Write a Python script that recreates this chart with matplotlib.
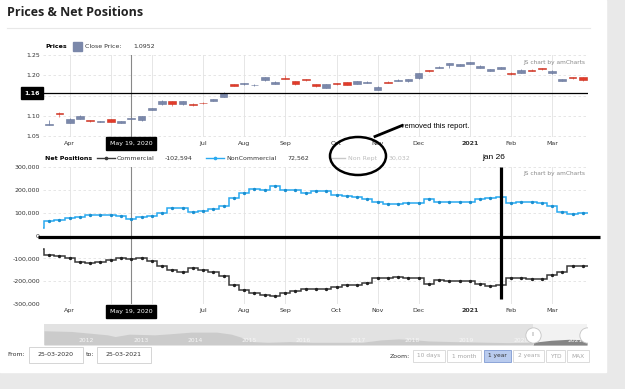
import matplotlib.pyplot as plt
import matplotlib.patches as mpatches
import numpy as np
import pandas as pd

W, H = 625, 389
nan = np.nan

# weekly COT report dates (first one only shows as the step coming in from the left edge)
weeks = pd.date_range('2020-03-17', periods=54, freq='7D')

# EUR/USD weekly candles
price_open = [nan, 1.078, 1.108, 1.083, 1.093, 1.090, 1.086, 1.092, 1.083, 1.094, 1.091,
              1.115, 1.130, 1.137, 1.130, 1.129, 1.133, 1.137, 1.147, 1.178, 1.178,
              1.176, 1.188, 1.179, 1.194, 1.185, 1.190, 1.179, 1.170, 1.181, 1.183,
              1.179, 1.182, 1.165, 1.184, 1.187, 1.185, 1.193, 1.212, 1.219, 1.226,
              1.224, 1.228, 1.218, 1.211, 1.216, 1.207, 1.207, 1.213, 1.217, 1.205,
              1.186, 1.195, 1.196]
price_close = [nan, 1.080, 1.105, 1.094, 1.101, 1.088, 1.087, 1.086, 1.088, 1.0952, 1.100,
               1.119, 1.137, 1.130, 1.136, 1.127, 1.131, 1.142, 1.156, 1.174, 1.181,
               1.177, 1.195, 1.184, 1.192, 1.179, 1.188, 1.173, 1.178, 1.179, 1.177,
               1.185, 1.183, 1.172, 1.182, 1.189, 1.190, 1.206, 1.210, 1.221, 1.230,
               1.228, 1.233, 1.223, 1.215, 1.220, 1.203, 1.214, 1.211, 1.215, 1.210,
               1.191, 1.193, 1.188]
price_high = [nan, 1.090, 1.109, 1.095, 1.103, 1.091, 1.089, 1.093, 1.089, 1.096, 1.101,
              1.121, 1.139, 1.138, 1.137, 1.131, 1.134, 1.143, 1.158, 1.179, 1.182,
              1.179, 1.196, 1.185, 1.200, 1.186, 1.191, 1.180, 1.179, 1.182, 1.184,
              1.186, 1.185, 1.174, 1.185, 1.190, 1.191, 1.207, 1.213, 1.222, 1.231,
              1.229, 1.234, 1.225, 1.216, 1.221, 1.208, 1.215, 1.216, 1.218, 1.213,
              1.192, 1.196, 1.197]
price_low = [nan, 1.077, 1.098, 1.082, 1.092, 1.085, 1.085, 1.085, 1.082, 1.093, 1.089,
             1.114, 1.127, 1.126, 1.128, 1.124, 1.130, 1.136, 1.146, 1.173, 1.177,
             1.175, 1.187, 1.178, 1.190, 1.177, 1.187, 1.172, 1.169, 1.176, 1.176,
             1.178, 1.181, 1.164, 1.181, 1.186, 1.184, 1.192, 1.209, 1.218, 1.217,
             1.223, 1.227, 1.217, 1.210, 1.215, 1.201, 1.206, 1.210, 1.214, 1.204,
             1.185, 1.192, 1.187]
price_line = 1.157   # horizontal marker line, label "1.16"

# net positions (contracts)
commercial = [-60000, -87000, -88000, -97000, -115000, -119000, -115000, -106000, -98000,
              -102594, -100000, -110000, -132000, -153000, -161000, -144000, -151000,
              -159000, -177000, -216000, -238000, -254000, -259000, -266000, -251000,
              -245000, -233000, -235000, -235000, -226000, -217000, -218000, -206000,
              -185000, -184000, -182000, -186000, -188000, -211000, -195000, -198000,
              -200000, -200000, -213000, -220000, -218000, -185000, -188000, -191000,
              -191000, -173000, -159000, -132000, -135000]
noncommercial = [35000, 63000, 67000, 76000, 82000, 88000, 91000, 91000, 84000, 72562,
                 81000, 84000, 98000, 120000, 120000, 103000, 107000, 115000, 129000,
                 163000, 185000, 204000, 200000, 217000, 200000, 200000, 185000, 195000,
                 194000, 179000, 172000, 169000, 159000, 145000, 140000, 140000, 144000,
                 144000, 159000, 147000, 148000, 148000, 148000, 160000, 166000, 170000,
                 144000, 145000, 145000, 144000, 128000, 104000, 94000, 98000]
nonrept_value = 30032
cursor_idx = 9          # May 19, 2020
marked_idx = 45         # Jan 26, 2021

# navigator (scrollbar) history, relative height
nav_years = [2011.22, 2011.72, 2012.06, 2012.39, 2012.53, 2012.79, 2013.26, 2013.53,
             2013.93, 2014.40, 2014.67, 2014.87, 2015.07, 2015.34, 2015.74, 2016.14,
             2016.41, 2016.75, 2017.08, 2017.42, 2017.75, 2018.02, 2018.29, 2018.76,
             2019.42, 2019.76, 2020.23, 2020.56, 2020.90, 2021.22]
nav_vals = [42, 40, 35, 30, 25, 32, 30, 33, 38, 38, 32, 22, 10, 8, 10, 8, 8, 8, 8, 15,
            18, 16, 12, 10, 8, 7, 8, 14, 17, 15]
nav_sel_start = 2020.23

zoom_buttons = ['10 days', '1 month', '1 year', '2 years', 'YTD', 'MAX']
zoom_selected = '1 year'

BLUE, BLUE_EDGE = '#7b88aa', '#66749a'
RED, RED_EDGE = '#e23b2a', '#c7301f'
CYAN = '#2aaaf0'
DARK = '#3a3a3a'
SMALL = 4.5


def rect(x0, y0, x1, y1):
    # pixel box (from top-left) -> figure fraction
    return [x0 / W, 1 - y1 / H, (x1 - x0) / W, (y1 - y0) / H]


fig = plt.figure(figsize=(W / 100, H / 100), dpi=100, facecolor='#e9e9e9')

bg = fig.add_axes([0, 0, 1, 1], zorder=0)
bg.set_xlim(0, W)
bg.set_ylim(H, 0)
bg.axis('off')
bg.add_patch(mpatches.Rectangle((0, 0), 606, 372, color='white'))
bg.text(7, 12.5, 'Prices & Net Positions', fontsize=9, fontweight='bold',
        family='Open Sans', va='center', color='#222')
bg.plot([7, 590], [28, 28], color='#e8e8e8', lw=0.8)

x = np.arange(len(weeks))
month_idx = [i for i in range(1, len(weeks)) if weeks[i].month != weeks[i - 1].month]
month_lbl = ['2021' if weeks[i].month == 1 else weeks[i].strftime('%b') for i in month_idx]
# May and Jun sit under the cursor tooltip, so they stay blank
month_lbl = ['' if m in ('May', 'Jun') else m for m in month_lbl]


def style_axes(ax, pad):
    ax.set_facecolor('none')
    for s in ax.spines.values():
        s.set_visible(False)
    ax.set_xlim(0.4, 53.5)
    ax.set_xticks(month_idx, month_lbl)
    ax.tick_params(length=0, labelsize=SMALL, colors='#333', pad=pad)
    ax.tick_params(axis='y', pad=2.2)
    for lbl in ax.get_xticklabels():
        if lbl.get_text() == '2021':
            lbl.set_fontweight('bold')
    ax.grid(axis='x', color='#e6e6e6', lw=0.7)
    ax.grid(axis='y', color='#e2e2e2', lw=0.6, ls=(0, (3, 3)))
    ax.set_axisbelow(True)
    ax.axvline(cursor_idx, color='#888', lw=0.8, zorder=1)


# ---- price candles
ax1 = fig.add_axes(rect(43, 55, 588, 136.5), zorder=2)
style_axes(ax1, 3.2)
o = np.array(price_open)
c = np.array(price_close)
hi = np.array(price_high)
lo = np.array(price_low)
ok = ~np.isnan(o)
up = c >= o
fill = np.where(up, BLUE, RED)[ok]
edge = np.where(up, BLUE_EDGE, RED_EDGE)[ok]
wick = np.where(up, BLUE, '#ee7a6c')[ok]
ax1.vlines(x[ok], lo[ok], hi[ok], colors=wick, lw=0.6, zorder=2)
ax1.bar(x[ok], np.maximum(np.abs(c - o)[ok], 0.0007), bottom=np.minimum(o, c)[ok],
        width=0.75, color=fill, edgecolor=edge, lw=0.4, zorder=3)
ax1.axhline(price_line, color='black', lw=0.9, zorder=4)
ax1.set_ylim(1.05, 1.25)
ax1.set_yticks([1.05, 1.10, 1.15, 1.20, 1.25])
# 1.15 is covered by the 1.16 value box
ax1.yaxis.set_major_formatter(lambda v, p: '' if abs(v - 1.15) < 1e-6 else f'{v:.2f}')

# ---- net positions
ax2 = fig.add_axes(rect(43, 167, 588, 304), zorder=2)
style_axes(ax2, 2.6)
edges = np.append(x - 0.5, x[-1] + 0.5)
ax2.stairs(commercial, edges, baseline=None, color=DARK, lw=1.1, zorder=3)
ax2.plot(x, commercial, 'o', ms=1.4, color='#222', zorder=4)
ax2.stairs(noncommercial, edges, baseline=None, color=CYAN, lw=1.1, zorder=3)
ax2.plot(x, noncommercial, 'o', ms=1.4, color='#1a8fd0', zorder=4)
ax2.set_ylim(-300000, 300000)
ax2.set_yticks(np.arange(-300000, 300001, 100000))
ax2.yaxis.set_major_formatter(lambda v, p: f'{v:,.0f}')

# ---- legends
bg.text(45, 46, 'Prices', fontsize=SMALL, fontweight='bold', va='center')
bg.add_patch(mpatches.Rectangle((73, 41.5), 9, 9, color=BLUE))
bg.text(85, 46, 'Close Price:', fontsize=SMALL, va='center', color='#333')
bg.text(133, 46, f'{price_close[cursor_idx]:.4f}', fontsize=SMALL, va='center', color='#333')

ly = 158
bg.text(45, ly, 'Net Positions', fontsize=SMALL, fontweight='bold', va='center')
bg.plot([97, 115], [ly, ly], color=DARK, lw=1)
bg.plot([106], [ly], 'o', ms=1.6, color=DARK)
bg.text(117, ly, 'Commercial', fontsize=SMALL, va='center', color='#333')
bg.text(165, ly, f'{commercial[cursor_idx]:,.0f}', fontsize=SMALL, va='center', color='#333')
bg.plot([206, 224], [ly, ly], color=CYAN, lw=1)
bg.plot([215], [ly], 'o', ms=1.6, color=CYAN)
bg.text(226, ly, 'NonCommercial', fontsize=SMALL, va='center', color='#333')
bg.text(287, ly, f'{noncommercial[cursor_idx]:,.0f}', fontsize=SMALL, va='center', color='#333')
bg.plot([332, 345], [ly, ly], color='#c8c8c8', lw=1)
bg.text(348, ly, 'Non Rept', fontsize=SMALL, va='center', color='#bdbdbd')
bg.text(389, ly, f'{nonrept_value:,}', fontsize=SMALL, va='center', color='#bdbdbd')

# ---- navigator
nav = fig.add_axes(rect(44, 324, 587, 345), zorder=2)
nav.set_facecolor('#e2e2e2')
nav.set_xlim(nav_years[0], nav_years[-1])
nav.set_ylim(0, 62)
nav.set_xticks([])
nav.set_yticks([])
for s in nav.spines.values():
    s.set_visible(False)
ny = np.array(nav_years)
nav.fill_between(ny, nav_vals, color='#cbcbcb', lw=0)
nav.axvspan(nav_sel_start, nav_years[-1], color='#f2f2f2', lw=0)
nav.fill_between(ny, nav_vals, where=ny >= nav_sel_start, color='#858585', lw=0)
for yr in range(2012, 2022):
    nav.text(yr, 12, str(yr), ha='center', va='center', fontsize=4.3, color='#f7f7f7')
for hx in [nav_sel_start, nav_years[-1]]:
    nav.plot([hx], [31], 'o', ms=11, mfc='white', mec='#c4c4c4', mew=0.6,
             clip_on=(hx == nav_years[-1]), zorder=5)
nav.text(nav_sel_start, 31, 'II', ha='center', va='center', fontsize=3.5,
         color='#aaa', zorder=6, clip_on=False)

# ---- bottom controls
bg.text(7, 355, 'From:', fontsize=SMALL, va='center', color='#333')
for bx, txt in [(29, weeks[1] + pd.Timedelta(days=1)), (97, weeks[-1] + pd.Timedelta(days=2))]:
    bg.add_patch(mpatches.Rectangle((bx, 347), 54, 16, fc='white', ec='#cfcfcf', lw=0.6))
    bg.text(bx + 27, 355, txt.strftime('%d-%m-%Y'), fontsize=SMALL, ha='center',
            va='center', color='#333')
bg.text(85.5, 355, 'to:', fontsize=SMALL, va='center', color='#333')
bg.text(410, 356, 'Zoom:', fontsize=SMALL, ha='right', va='center', color='#333')
btn_x = [(413, 445), (447, 481), (484, 511), (513, 544), (546, 565), (567, 589)]
for (b0, b1), name in zip(btn_x, zoom_buttons):
    sel = name == zoom_selected
    bg.add_patch(mpatches.Rectangle((b0, 350), b1 - b0, 12,
                                    fc='#b9cbee' if sel else 'white',
                                    ec='#7f9bd3' if sel else '#d6d6d6', lw=0.6))
    bg.text((b0 + b1) / 2, 356, name, fontsize=4.2, ha='center', va='center',
            color='#333' if sel else '#a8a8a8')

# ---- overlay: tooltips, watermark, hand drawn marks
ov = fig.add_axes([0, 0, 1, 1], zorder=10)
ov.set_xlim(0, W)
ov.set_ylim(H, 0)
ov.axis('off')

tip = weeks[cursor_idx].strftime('%b %d, %Y').replace(' 0', ' ')
for ty in [137, 305]:
    ov.add_patch(mpatches.Rectangle((106, ty), 50, 13, color='black'))
    ov.text(131, ty + 6.5, tip, fontsize=SMALL, ha='center', va='center', color='white')
ov.add_patch(mpatches.Rectangle((21, 87), 22, 12, color='black'))
ov.text(32, 93, f'{price_line:.2f}', fontsize=SMALL, ha='center', va='center',
        color='white', fontweight='bold')
for wy in [62, 173]:
    ov.text(585, wy, 'JS chart by amCharts', fontsize=4.2, ha='right', va='center',
            color='#8a8a8a')

ov.plot([38, 600], [236.5, 236.5], color='black', lw=2.3, solid_capstyle='butt')
jan_x = 43 + (marked_idx - 0.4) * 545 / 53.1
ov.plot([jan_x, jan_x], [167, 299], color='black', lw=2.3, solid_capstyle='butt')
ov.text(jan_x - 18, 157, weeks[marked_idx].strftime('%b %d').lower(), fontsize=6,
        family='Liberation Sans', va='center')
ov.add_patch(mpatches.Ellipse((358, 156), 56, 38, fill=False, lw=1.8, ec='black'))
ov.plot([375, 402], [136.5, 125.5], color='black', lw=2)
ov.text(402, 126.5, 'removed this report.', fontsize=5.4, family='Liberation Sans',
        va='center')

fig.savefig('out.png', dpi=100, facecolor=fig.get_facecolor())
